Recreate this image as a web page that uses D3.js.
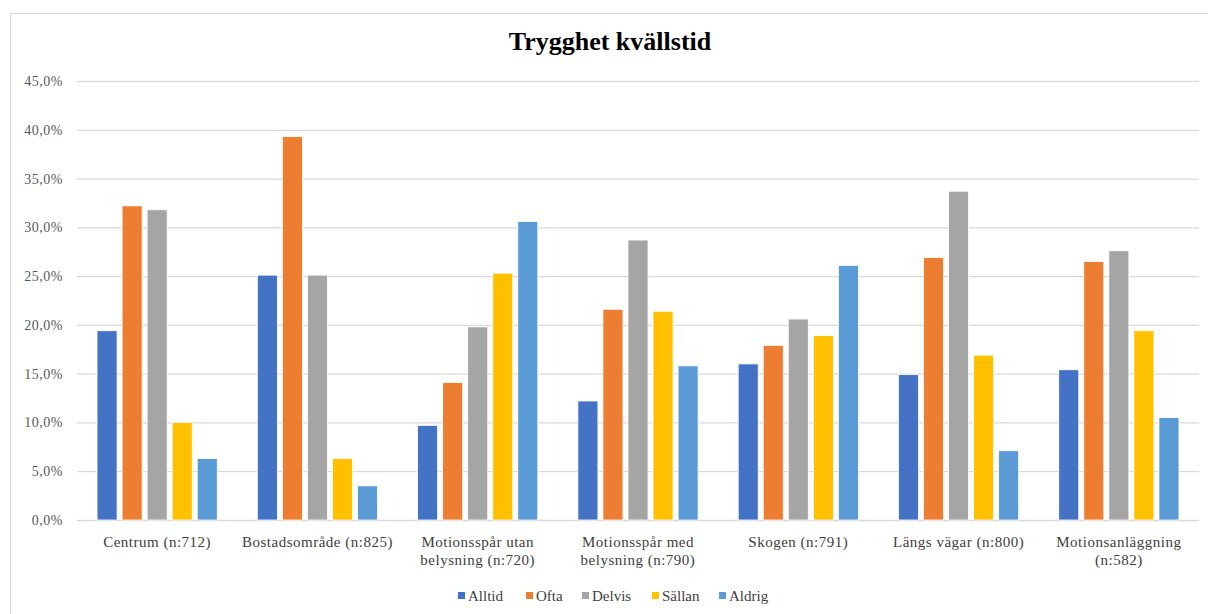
<!DOCTYPE html>
<html>
<head>
<meta charset="utf-8">
<script src="https://cdn.jsdelivr.net/npm/d3@7/dist/d3.min.js"></script>
<style>
body { margin: 0; background: #fff; }
</style>
</head>
<body>
<div id="chart"></div>
<script>
var categories = [
	["Centrum (n:712)"],
	["Bostadsområde (n:825)"],
	["Motionsspår utan", "belysning (n:720)"],
	["Motionsspår med", "belysning (n:790)"],
	["Skogen (n:791)"],
	["Längs vägar (n:800)"],
	["Motionsanläggning", "(n:582)"]
];
var series = ["Alltid", "Ofta", "Delvis", "Sällan", "Aldrig"];
var colors = ["#4472c4", "#ed7d31", "#a5a5a5", "#ffc000", "#5b9bd5"];
var alltid = [19.4, 25.1, 9.7, 12.2, 16.0, 14.9, 15.4];
var ofta   = [32.2, 39.3, 14.1, 21.6, 17.9, 26.9, 26.5];
var delvis = [31.8, 25.1, 19.8, 28.7, 20.6, 33.7, 27.6];
var sallan = [10.0, 6.3, 25.3, 21.4, 18.9, 16.9, 19.4];
var aldrig = [6.3, 3.5, 30.6, 15.8, 26.1, 7.1, 10.5];
var yTicks = [0, 5, 10, 15, 20, 25, 30, 35, 40, 45];

var values = [alltid, ofta, delvis, sallan, aldrig];
var serif = "'Liberation Serif', 'Times New Roman', serif";
var width = 1208, height = 614;
var margin = { left: 77, right: 9, top: 81, bottom: 94 };

var svg = d3.select("#chart").append("svg")
	.attr("width", width)
	.attr("height", height);

// chart frame
svg.append("path")
	.attr("d", "M10.5," + height + "V13.5H" + width)
	.attr("fill", "none")
	.attr("stroke", "#d9d9d9");

var x = d3.scaleBand()
	.domain(d3.range(categories.length))
	.range([margin.left, width - margin.right])
	.paddingInner(0.25)
	.paddingOuter(0.125);

var xs = d3.scaleBand()
	.domain(series)
	.range([0, x.bandwidth()])
	.paddingInner(0.2);

var y = d3.scaleLinear()
	.domain([0, 45])
	.range([height - margin.bottom, margin.top]);

// gridlines and y labels
var yAxis = d3.axisLeft(y)
	.tickValues(yTicks)
	.tickSize(-(width - margin.left - margin.right))
	.tickPadding(14)
	.tickFormat(function(d) { return d3.format(".1f")(d).replace(".", ",") + "%"; });

var gy = svg.append("g")
	.attr("transform", "translate(" + margin.left + ",0)")
	.call(yAxis);
gy.select(".domain").remove();
gy.selectAll(".tick line").attr("stroke", "#d9d9d9").attr("stroke-width", 1.3);
gy.selectAll(".tick text")
	.style("font-family", serif)
	.style("font-size", "14px")
	.style("letter-spacing", "0.5px")
	.attr("fill", "#595959");

// bars
var groups = svg.selectAll("g.cat")
	.data(categories)
	.enter()
	.append("g")
	.attr("class", "cat")
	.attr("transform", function(d, i) { return "translate(" + x(i) + ",0)"; });

groups.selectAll("rect")
	.data(function(d, i) {
		return series.map(function(s, j) { return { s: s, v: values[j][i], c: colors[j] }; });
	})
	.enter()
	.append("rect")
	.attr("x", function(d) { return xs(d.s); })
	.attr("width", xs.bandwidth())
	.attr("y", function(d) { return y(d.v); })
	.attr("height", function(d) { return y(0) - y(d.v); })
	.attr("fill", function(d) { return d.c; })
	.attr("stroke", "#fff")
	.attr("stroke-width", 0.8);

// category labels
groups.append("text")
	.attr("text-anchor", "middle")
	.attr("x", x.bandwidth() / 2)
	.attr("y", 547)
	.style("font-family", serif)
	.style("font-size", "15px")
	.style("letter-spacing", "0.5px")
	.attr("fill", "#404040")
	.selectAll("tspan")
	.data(function(d) { return d; })
	.enter()
	.append("tspan")
	.attr("x", x.bandwidth() / 2)
	.attr("dy", function(d, i) { return i ? 18 : 0; })
	.text(function(d) { return d; });

// title
svg.append("text")
	.attr("x", 610)
	.attr("y", 50)
	.attr("text-anchor", "middle")
	.style("font-family", serif)
	.style("font-size", "26px")
	.style("font-weight", "bold")
	.attr("fill", "#000")
	.text("Trygghet kvällstid");

// legend
var legendX = [458, 526, 582, 652, 719];
var legend = svg.selectAll("g.legend")
	.data(series)
	.enter()
	.append("g")
	.attr("class", "legend")
	.attr("transform", function(d, i) { return "translate(" + legendX[i] + ",596)"; });

legend.append("rect")
	.attr("x", 0)
	.attr("y", -4)
	.attr("width", 7)
	.attr("height", 7)
	.attr("fill", function(d, i) { return colors[i]; });

legend.append("text")
	.attr("x", 10)
	.attr("y", 4.5)
	.style("font-family", serif)
	.style("font-size", "15px")
	.attr("fill", "#404040")
	.text(function(d) { return d; });
</script>
</body>
</html>
